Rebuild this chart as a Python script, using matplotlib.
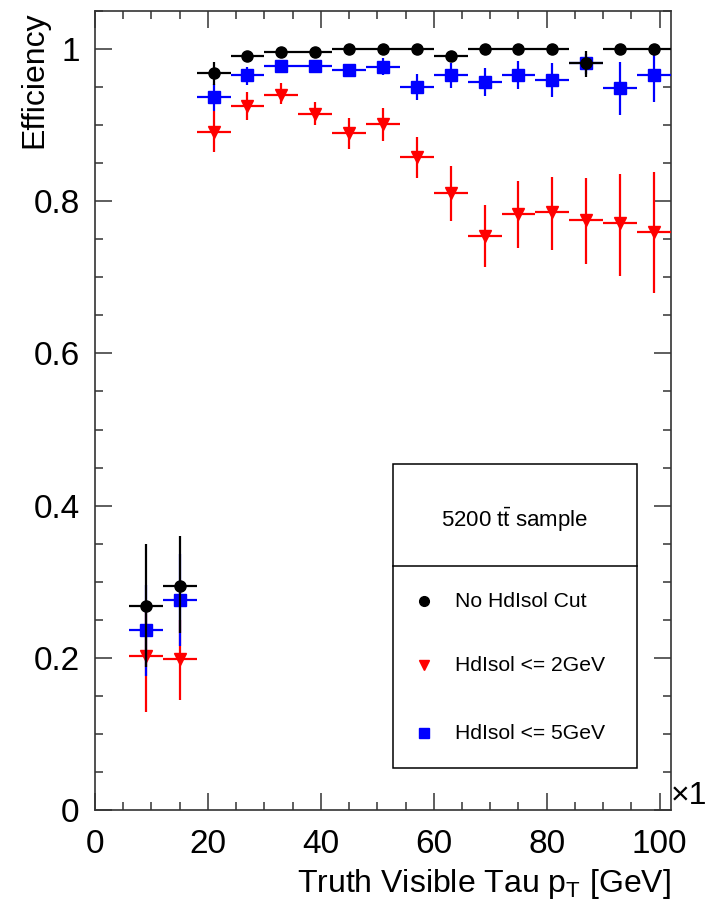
import matplotlib
matplotlib.use("Agg")
import matplotlib.pyplot as plt
from matplotlib.lines import Line2D
from matplotlib.patches import Rectangle
from matplotlib.ticker import MultipleLocator, FixedFormatter, FixedLocator

plt.rcParams['font.family'] = ['Liberation Sans', 'DejaVu Sans']
plt.rcParams['mathtext.fontset'] = 'custom'
plt.rcParams['mathtext.rm'] = 'Liberation Sans'
plt.rcParams['mathtext.it'] = 'Liberation Sans:italic'

# Data
pt = [9, 15, 21, 27, 33, 39, 45, 51, 57, 63, 69, 75, 81, 87, 93, 99]
pt_halfwidth = [3] * 16

eff_nocut = [0.268, 0.295, 0.968, 0.991, 0.996, 0.996, 1.000, 1.000,
             1.000, 0.991, 1.000, 1.000, 1.000, 0.981, 1.000, 1.000]
err_nocut_lo = [0.080, 0.063, 0.015, 0.006, 0.004, 0.004, 0.003, 0.003,
                0.003, 0.008, 0.003, 0.003, 0.003, 0.018, 0.004, 0.004]
err_nocut_hi = [0.081, 0.065, 0.015, 0.005, 0.003, 0.003, 0.000, 0.000,
                0.000, 0.006, 0.000, 0.000, 0.000, 0.017, 0.000, 0.000]

eff_2gev = [0.203, 0.198, 0.891, 0.925, 0.940, 0.915, 0.889, 0.901,
            0.858, 0.811, 0.754, 0.783, 0.786, 0.775, 0.771, 0.760]
err_2gev_lo = [0.074, 0.054, 0.026, 0.018, 0.012, 0.015, 0.021, 0.022,
               0.028, 0.037, 0.040, 0.045, 0.050, 0.058, 0.069, 0.080]
err_2gev_hi = [0.072, 0.052, 0.028, 0.018, 0.015, 0.016, 0.021, 0.022,
               0.026, 0.035, 0.041, 0.043, 0.046, 0.055, 0.065, 0.078]

eff_5gev = [0.236, 0.276, 0.937, 0.966, 0.978, 0.978, 0.973, 0.976,
            0.950, 0.966, 0.957, 0.966, 0.959, 0.982, 0.949, 0.966]
err_5gev_lo = [0.060, 0.060, 0.018, 0.013, 0.006, 0.006, 0.008, 0.010,
               0.017, 0.017, 0.019, 0.019, 0.022, 0.015, 0.036, 0.036]
err_5gev_hi = [0.060, 0.060, 0.017, 0.011, 0.005, 0.005, 0.007, 0.012,
               0.017, 0.016, 0.018, 0.018, 0.022, 0.012, 0.034, 0.027]

labels = ['No HdIsol Cut', 'HdIsol <= 2GeV', 'HdIsol <= 5GeV']

fig = plt.figure(figsize=(7.16, 9.07), dpi=100)
ax = fig.add_axes([0.1327, 0.1069, 0.8043, 0.881])

common = dict(linestyle='none', elinewidth=1.6, capsize=0, markersize=8, clip_on=True)
ax.errorbar(pt, eff_2gev, yerr=[err_2gev_lo, err_2gev_hi], xerr=pt_halfwidth,
            fmt='v', color='#ff0000', zorder=3, **common)
ax.errorbar(pt, eff_5gev, yerr=[err_5gev_lo, err_5gev_hi], xerr=pt_halfwidth,
            fmt='s', color='#0000ff', zorder=4, **common)
ax.errorbar(pt, eff_nocut, yerr=[err_nocut_lo, err_nocut_hi], xerr=pt_halfwidth,
            fmt='o', color='black', zorder=5, **common)

ax.set_xlim(0, 102)
ax.set_ylim(0, 1.05)

ax.xaxis.set_major_locator(FixedLocator([0, 20, 40, 60, 80, 100]))
ax.xaxis.set_major_formatter(FixedFormatter(['0', '20', '40', '60', '80', '100']))
ax.xaxis.set_minor_locator(MultipleLocator(5))
ax.yaxis.set_major_locator(FixedLocator([0, 0.2, 0.4, 0.6, 0.8, 1.0]))
ax.yaxis.set_major_formatter(FixedFormatter(['0', '0.2', '0.4', '0.6', '0.8', '1']))
ax.yaxis.set_minor_locator(MultipleLocator(0.05))

ax.tick_params(which='both', direction='in', top=True, right=True, width=1.1, color='#333333')
ax.tick_params(which='major', length=12, labelsize=24)
ax.tick_params(which='minor', length=6)
ax.tick_params(axis='x', which='major', pad=14)
ax.tick_params(axis='y', which='major', pad=11)
for s in ax.spines.values():
    s.set_linewidth(1.2)
    s.set_color('#333333')

ax.text(-0.105, 1.0, 'Efficiency', transform=ax.transAxes, rotation=90,
        ha='center', va='top', fontsize=23)
ax.text(1.0, -0.093, r'Truth Visible Tau p$_{\mathrm{T}}$ [GeV]', transform=ax.transAxes,
        ha='right', va='center', fontsize=23)
ax.text(1.0, 0.017, '\u00d71', transform=ax.transAxes, ha='left', va='center', fontsize=23)

# legend box
bx0, bx1, by0, by1, bdiv = 0.517, 0.941, 0.0526, 0.433, 0.305
ax.add_patch(Rectangle((bx0, by0), bx1 - bx0, by1 - by0, transform=ax.transAxes,
                       facecolor='white', edgecolor='black', linewidth=1.1, zorder=6))
ax.add_line(Line2D([bx0, bx1], [bdiv, bdiv], transform=ax.transAxes,
                   color='black', linewidth=1.1, zorder=7))
ax.text((bx0 + bx1) / 2, 0.363, r'5200 $\mathrm{t\bar{t}}$ sample', transform=ax.transAxes,
        ha='center', va='center', fontsize=16, zorder=7)

entries = [('o', 'black', 0.2616), ('v', '#ff0000', 0.1815), ('s', '#0000ff', 0.0964)]
for (mk, col, yy), lab in zip(entries, labels):
    ax.add_line(Line2D([0.571], [yy], transform=ax.transAxes, marker=mk, color=col,
                       markersize=7, linestyle='none', zorder=7))
    ax.text(0.625, yy, lab, transform=ax.transAxes, ha='left', va='center',
            fontsize=15.2, zorder=7)

fig.savefig('out.png', dpi=100, facecolor='white')
